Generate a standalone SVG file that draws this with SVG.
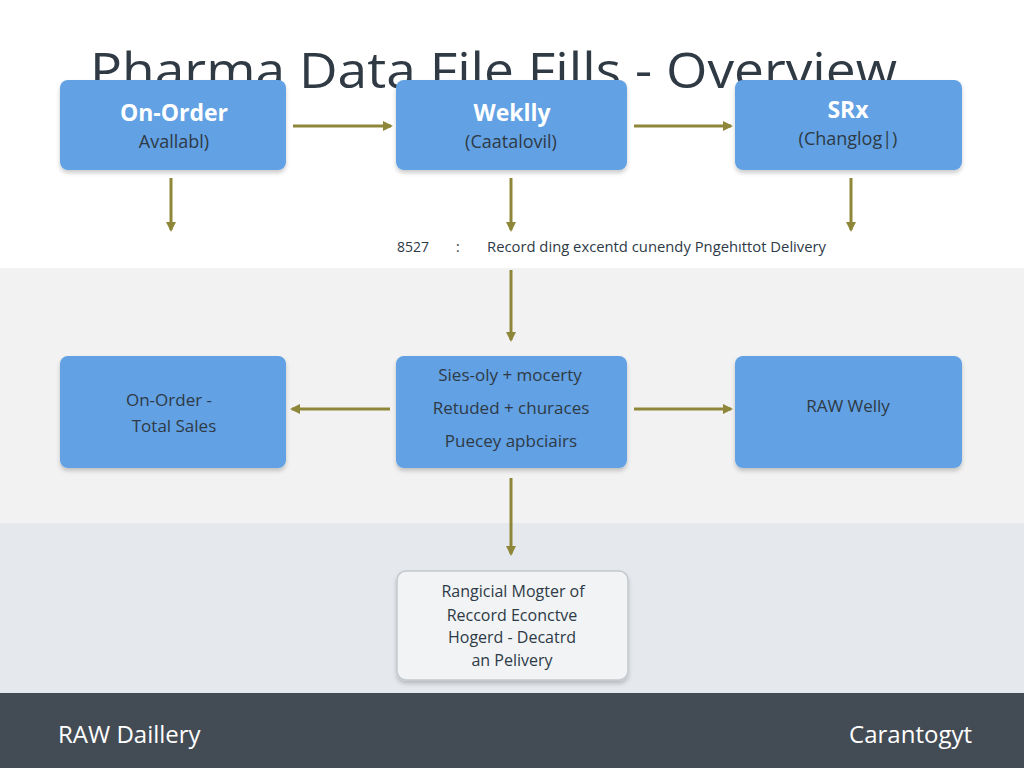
<svg xmlns="http://www.w3.org/2000/svg" width="1024" height="768" viewBox="0 0 1024 768">
<defs>
<style>
.t{font-family:"Open Sans","Noto Sans","Liberation Sans",sans-serif}
.box{fill:#62a1e3}
.hd{font-size:23px;font-weight:bold;fill:#ffffff;text-anchor:middle}
.sb{font-size:18px;fill:#2e3a46;text-anchor:middle}
.md{font-size:17px;fill:#2e3a46;text-anchor:middle}
.bt{font-size:16px;fill:#2e3a46;text-anchor:middle}
.ar{stroke:#8e8638;stroke-width:3;fill:none}
</style>
<marker id="ah" markerWidth="10" markerHeight="10" refX="8" refY="5" orient="auto" markerUnits="userSpaceOnUse">
<path d="M0,0 L10,5 L0,10 Z" fill="#8e8638"/>
</marker>
<filter id="sh" x="-10%" y="-10%" width="120%" height="130%">
<feDropShadow dx="0" dy="3" stdDeviation="2" flood-color="#000" flood-opacity="0.2"/>
</filter>
</defs>
<rect x="0" y="0" width="1024" height="268" fill="#ffffff"/>
<rect x="0" y="268" width="1024" height="255" fill="#f2f2f2"/>
<rect x="0" y="523" width="1024" height="170" fill="#e5e9ed"/>
<rect x="0" y="693" width="1024" height="75" fill="#434c55"/>
<text class="t" x="90" y="88" font-size="50" fill="#2f3a45" textLength="807" lengthAdjust="spacingAndGlyphs">Pharma Data File Fills - Overview</text>
<g id="connectors">
<line class="ar" x1="293" y1="126" x2="391" y2="126" marker-end="url(#ah)"/>
<line class="ar" x1="634" y1="126" x2="731" y2="126" marker-end="url(#ah)"/>
<line class="ar" x1="171" y1="178" x2="171" y2="230" marker-end="url(#ah)"/>
<line class="ar" x1="511" y1="178" x2="511" y2="230" marker-end="url(#ah)"/>
<line class="ar" x1="851" y1="178" x2="851" y2="230" marker-end="url(#ah)"/>
<line class="ar" x1="511" y1="270" x2="511" y2="340" marker-end="url(#ah)"/>
<line class="ar" x1="390" y1="409" x2="292" y2="409" marker-end="url(#ah)"/>
<line class="ar" x1="634" y1="409" x2="731" y2="409" marker-end="url(#ah)"/>
<line class="ar" x1="511" y1="478" x2="511" y2="554" marker-end="url(#ah)"/>
</g>
<g id="note">
<text class="t" x="397" y="252" font-size="14" fill="#2e3a46">8527</text>
<text class="t" x="456" y="252" font-size="14" fill="#2e3a46">:</text>
<text class="t" x="487" y="252" font-size="14.5" fill="#2e3a46" textLength="339" lengthAdjust="spacingAndGlyphs">Record ding excentd cunendy Pngehıttot Delivery</text>
</g>
<g id="n1"><rect class="box" x="60" y="80" width="226" height="90" rx="8" filter="url(#sh)"/>
<text class="t hd" x="174" y="121">On-Order</text><text class="t sb" x="174" y="148">Avallabl)</text></g>
<g id="n2"><rect class="box" x="396" y="80" width="231" height="90" rx="8" filter="url(#sh)"/>
<text class="t hd" x="512" y="121">Weklly</text><text class="t sb" x="511" y="148">(Caatalovil)</text></g>
<g id="n3"><rect class="box" x="735" y="80" width="227" height="90" rx="8" filter="url(#sh)"/>
<text class="t hd" x="848" y="118">SRx</text><text class="t sb" x="848" y="145">(Changlog|)</text></g>
<g id="n4"><rect class="box" x="60" y="356" width="226" height="112" rx="8" filter="url(#sh)"/>
<text class="t md" x="169" y="406">On-Order -</text><text class="t md" x="174" y="432">Total Sales</text></g>
<g id="n5"><rect class="box" x="396" y="356" width="231" height="112" rx="8" filter="url(#sh)"/>
<text class="t md" x="510" y="381">Sies-oly + mocerty</text><text class="t md" x="511" y="414">Retuded + churaces</text><text class="t md" x="511" y="447">Puecey apbciairs</text></g>
<g id="n6"><rect class="box" x="735" y="356" width="227" height="112" rx="8" filter="url(#sh)"/>
<text class="t md" x="848" y="412">RAW Welly</text></g>
<g id="n7"><rect x="397" y="571" width="231" height="109" rx="9" fill="#f1f3f5" stroke="#c4c9ce" stroke-width="1.5" filter="url(#sh)"/>
<text class="t bt" x="513" y="597">Rangicial Mogter of</text><text class="t bt" x="512" y="621">Reccord Econctve</text><text class="t bt" x="512" y="643">Hogerd - Decatrd</text><text class="t bt" x="512" y="666">an Pelivery</text></g>
<g id="footer">
<text class="t" x="58" y="743" font-size="24" fill="#ffffff">RAW Daillery</text>
<text class="t" x="972" y="743" font-size="24" fill="#ffffff" text-anchor="end">Carantogyt</text>
</g>
</svg>
